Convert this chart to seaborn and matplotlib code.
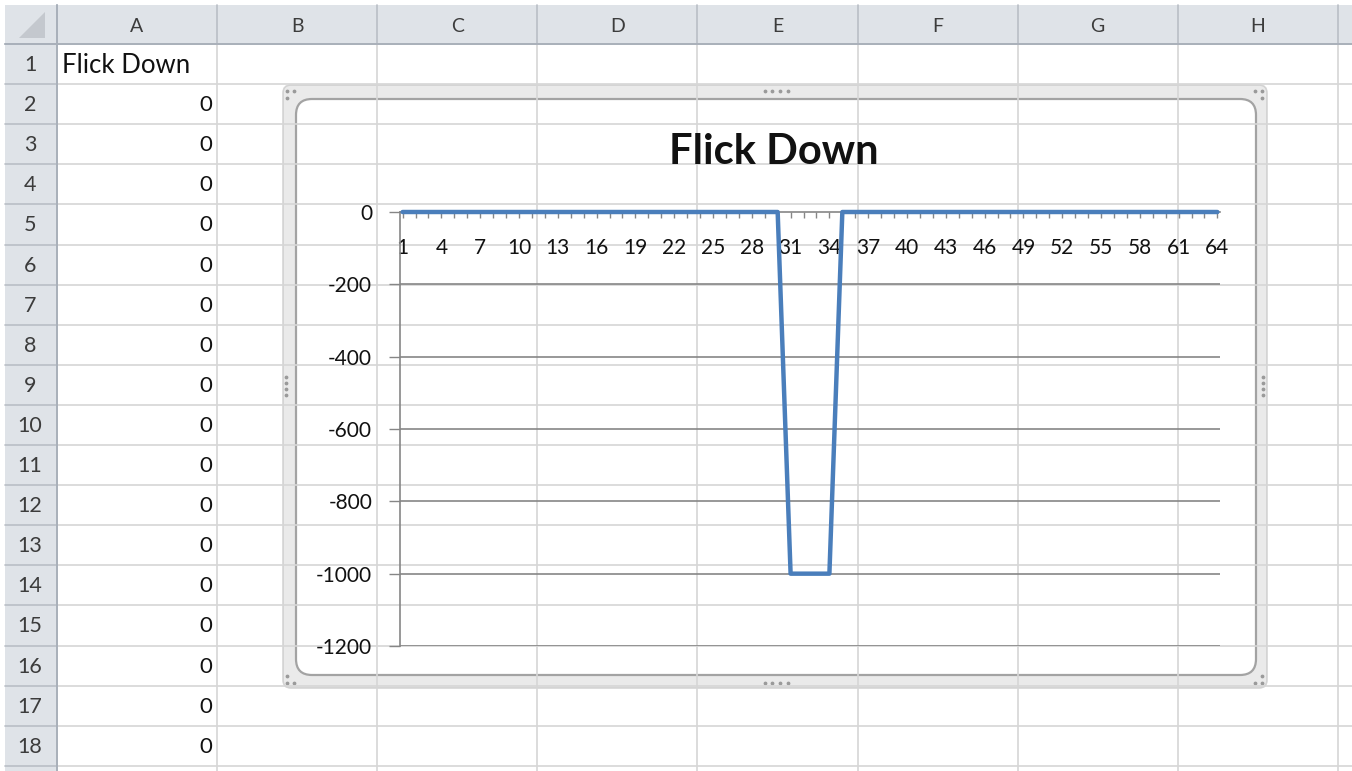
import matplotlib
matplotlib.use("Agg")
import matplotlib.pyplot as plt
import seaborn as sns
import pandas as pd
from matplotlib.patches import FancyBboxPatch, Rectangle, Polygon

# ---------------- data ----------------
categories = list(range(1, 65))
flick_down = [0, 0, 0, 0, 0, 0, 0, 0, 0, 0,
              0, 0, 0, 0, 0, 0, 0, 0, 0, 0,
              0, 0, 0, 0, 0, 0, 0, 0, 0, 0,
              -1000, -1000, -1000, -1000, 0, 0, 0, 0, 0, 0,
              0, 0, 0, 0, 0, 0, 0, 0, 0, 0,
              0, 0, 0, 0, 0, 0, 0, 0, 0, 0,
              0, 0, 0, 0]
y_ticks = [0, -200, -400, -600, -800, -1000, -1200]
x_label_cats = [1, 4, 7, 10, 13, 16, 19, 22, 25, 28, 31, 34, 37, 40, 43, 46, 49, 52, 55, 58, 61, 64]
chart_title = "Flick Down"
column_letters = ["A", "B", "C", "D", "E", "F", "G", "H"]
row_numbers = list(range(1, 19))
column_a_cells = ["Flick Down", "0", "0", "0", "0", "0", "0", "0", "0", "0",
                  "0", "0", "0", "0", "0", "0", "0", "0"]

df = pd.DataFrame({"cat": categories, "value": flick_down})

sns.set_style("white")
plt.rcParams["font.family"] = ["Lato", "DejaVu Sans"]

W, H = 1352, 771
fig = plt.figure(figsize=(W / 100, H / 100), dpi=100)

# ---------------- spreadsheet background ----------------
bg = fig.add_axes([0, 0, 1, 1])
bg.set_xlim(0, W)
bg.set_ylim(H, 0)
bg.axis("off")

header_bg = "#dfe3e8"
grid_c = "#d6d6d6"
hdr_line = "#b9bec6"
col_edges = [57 + 160.1 * k for k in range(9)]
row_edges = [44 + 40.1 * k for k in range(20)]

bg.add_patch(Rectangle((5, 5), W - 5, 39, fc=header_bg, ec="none"))
bg.add_patch(Rectangle((5, 44), 52, H - 44, fc=header_bg, ec="none"))
# corner triangle
bg.add_patch(Polygon([[45, 12], [45, 38], [19, 38]], closed=True, fc="#c4c8ce", ec="none"))

for x in col_edges:
    bg.plot([x, x], [44, H], color=grid_c, lw=1.2)
    bg.plot([x, x], [5, 44], color=hdr_line, lw=1.2)
for y in row_edges:
    bg.plot([57, W], [y, y], color=grid_c, lw=1.2)
    bg.plot([5, 57], [y, y], color=hdr_line, lw=1.2)
bg.plot([5, W], [44, 44], color="#a9b0ba", lw=1.4)
bg.plot([57, 57], [5, H], color="#a9b0ba", lw=1.4)

for i, letter in enumerate(column_letters):
    cx = (col_edges[i] + col_edges[i + 1]) / 2
    bg.text(cx, 26, letter, ha="center", va="center", fontsize=14, color="#3c3c3c")
for i, rn in enumerate(row_numbers):
    cy = (row_edges[i] + row_edges[i + 1]) / 2
    bg.text(30, cy + 1, str(rn), ha="center", va="center", fontsize=15.5, color="#3c3c3c")
for i, val in enumerate(column_a_cells):
    cy = (row_edges[i] + row_edges[i + 1]) / 2
    if i == 0:
        bg.text(62, cy + 1, val, ha="left", va="center", fontsize=18.5, color="#111111")
    else:
        bg.text(212, cy + 1, val, ha="right", va="center", fontsize=16, color="#111111")

# ---------------- chart frame ----------------
bg.add_patch(FancyBboxPatch((283, 85), 984, 603, boxstyle="round,pad=0,rounding_size=8",
                            fc="#e4e4e4", ec="#c8c8c8", lw=1.2, alpha=0.75))
bg.add_patch(FancyBboxPatch((296, 99), 960, 576, boxstyle="round,pad=0,rounding_size=16",
                            fc="white", ec="#a3a3a3", lw=1.6))
dot_c = "#9a9a9a"
dots_x = [765, 772, 780, 788]
bg.scatter(dots_x, [91] * 4, s=3, color=dot_c)
bg.scatter(dots_x, [683] * 4, s=3, color=dot_c)
bg.scatter([286] * 4, [377, 383, 389, 395], s=3, color=dot_c)
bg.scatter([1263] * 4, [377, 383, 389, 395], s=3, color=dot_c)
bg.scatter([287, 294, 287], [91, 91, 98], s=3, color=dot_c)
bg.scatter([1255, 1262, 1262], [91, 91, 98], s=3, color=dot_c)
bg.scatter([1262, 1255, 1262], [676, 683, 683], s=3, color=dot_c)
bg.scatter([287, 287, 294], [676, 683, 683], s=3, color=dot_c)

# ---------------- chart ----------------
ax = fig.add_axes([400 / W, 1 - 646 / H, 820 / W, 434 / H])
ax.set_facecolor("none")
axis_c = "#868686"
sns.lineplot(data=df, x="cat", y="value", ax=ax, color="#4a7ebb", linewidth=3.2,
             clip_on=False, zorder=5)
ax.set_xlim(0.8, 64.2)
ax.set_ylim(-1200, 0)
ax.set_yticks(y_ticks)
ax.set_yticklabels([str(v) for v in y_ticks])
ax.set_xticks(categories)
ax.set_xticklabels([str(c) if c in x_label_cats else "" for c in categories])
ax.set_xlabel("")
ax.set_ylabel("")
for v in y_ticks[1:]:
    ax.axhline(v, color=axis_c, lw=1.2, zorder=1)
for s in ["top", "right"]:
    ax.spines[s].set_visible(False)
ax.spines["left"].set_color(axis_c)
ax.spines["left"].set_linewidth(1.2)
ax.spines["bottom"].set_position(("data", 0))
ax.spines["bottom"].set_color(axis_c)
ax.spines["bottom"].set_linewidth(1.2)
ax.tick_params(axis="y", direction="out", length=8, width=1.0, color=axis_c,
               labelsize=15, pad=12, labelcolor="#111111", left=True)
ax.tick_params(axis="x", direction="out", length=4.5, width=1.0, color=axis_c,
               labelsize=15, pad=14, labelcolor="#111111", bottom=True)
ax.grid(False)

fig.text(774 / W, 1 - 152 / H, chart_title, ha="center", va="center",
         fontsize=30, fontweight="bold", color="#111111")

fig.savefig("out.png", dpi=100)
